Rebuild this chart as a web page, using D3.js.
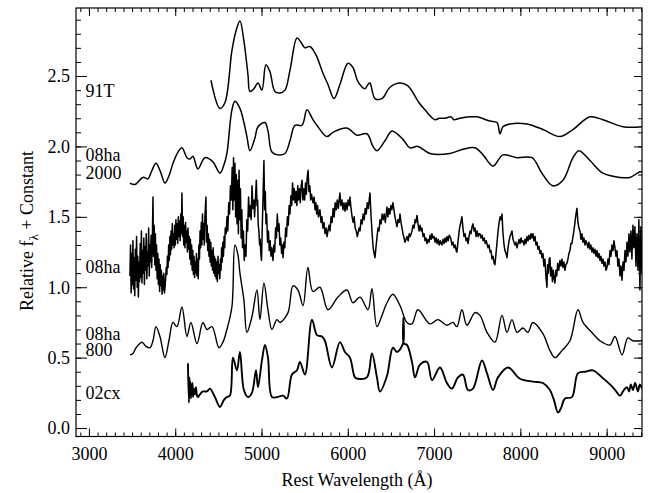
<!DOCTYPE html>
<html>
<head>
<meta charset="utf-8">
<script src="https://cdn.jsdelivr.net/npm/d3@7"></script>
<style>
  body { margin: 0; background: #fff; }
  svg { display: block; }
  .tick text { font-family: "Liberation Serif", "DejaVu Serif", serif; font-size: 18px; fill: #000; }
  .label { font-family: "Liberation Serif", "DejaVu Serif", serif; font-size: 18px; fill: #000; }
</style>
</head>
<body>
<svg id="chart" width="650" height="493"></svg>
<script>
// ---- data (rest wavelength in Angstrom, relative flux + constant) ----

var xMajorTicks = [3000, 4000, 5000, 6000, 7000, 8000, 9000];
var yMajorTicks = [0, 0.5, 1.0, 1.5, 2.0, 2.5];

var spec91T = [
  [4414,2.47],[4518,2.27],[4576,2.31],[4657,2.68],[4704,2.82],[4750,2.89],[4796,2.75],
  [4843,2.51],[4866,2.39],[4912,2.41],[4959,2.45],[5005,2.40],[5051,2.58],[5098,2.53],
  [5156,2.39],[5214,2.38],[5272,2.40],[5330,2.54],[5411,2.77],[5457,2.74],[5503,2.70],
  [5561,2.71],[5631,2.65],[5712,2.52],[5770,2.44],[5840,2.34],[5909,2.44],[6002,2.59],
  [6060,2.56],[6118,2.46],[6199,2.41],[6234,2.44],[6257,2.45],[6315,2.34],[6396,2.34],
  [6489,2.42],[6605,2.45],[6697,2.43],[6825,2.31],[6894,2.26],[7010,2.19],[7060,2.20],
  [7126,2.20],[7200,2.21],[7230,2.19],[7300,2.20],[7416,2.21],[7497,2.21],[7648,2.18],
  [7729,2.17],[7764,2.09],[7798,2.14],[7880,2.16],[8076,2.16],[8262,2.12],[8459,2.07],
  [8610,2.12],[8807,2.21],[8957,2.19],[9189,2.14],[9409,2.14]
];

var spec08ha2000 = [
  [3475,1.74],[3533,1.73],[3626,1.78],[3684,1.77],[3730,1.83],[3777,1.88],[3823,1.83],
  [3881,1.74],[3927,1.79],[3974,1.88],[4032,1.96],[4078,1.99],[4136,1.92],[4171,1.91],
  [4205,1.93],[4263,1.84],[4344,1.92],[4437,1.89],[4518,1.81],[4565,1.87],[4599,1.95],
  [4657,2.26],[4692,2.32],[4750,2.27],[4796,2.17],[4831,2.07],[4866,1.97],[4924,2.06],
  [4959,2.14],[5040,2.17],[5075,2.11],[5121,1.96],[5191,1.94],[5272,1.95],[5330,2.04],
  [5388,2.15],[5469,2.15],[5527,2.26],[5596,2.19],[5654,2.14],[5758,2.07],[5828,2.10],
  [5990,2.13],[6106,2.08],[6222,2.09],[6292,2.00],[6338,1.97],[6431,2.04],[6512,2.11],
  [6639,2.05],[6720,1.99],[6813,2.00],[6952,1.95],[7184,1.95],[7335,1.98],[7474,1.99],
  [7567,1.94],[7683,1.86],[7798,1.94],[7961,1.92],[8135,1.92],[8250,1.81],[8378,1.72],
  [8494,1.76],[8610,1.92],[8679,1.97],[8807,1.90],[8957,1.81],[9154,1.78],[9270,1.78],
  [9386,1.82],[9409,1.82]
];

var spec08ha = [
  [3475,1.08],[3482,1.30],[3489,0.96],[3496,1.24],[3503,1.02],[3510,1.33],[3517,0.99],[3524,1.21],
  [3531,0.94],[3538,1.27],[3545,1.05],[3552,1.36],[3559,1.00],[3566,1.22],[3573,0.93],[3580,1.18],
  [3587,1.04],[3594,1.31],[3601,1.07],[3608,1.40],[3615,1.03],[3622,1.26],[3629,1.10],[3636,1.35],
  [3643,1.02],[3650,1.29],[3657,1.12],[3664,1.38],[3671,1.06],[3678,1.25],[3685,1.15],[3692,1.42],
  [3699,1.08],[3706,1.30],[3713,1.18],[3720,1.37],[3727,1.14],[3734,1.30],[3742,1.64],[3749,1.22],
  [3756,1.44],[3763,1.16],[3770,1.38],[3777,1.12],[3784,1.30],[3791,1.06],[3798,1.24],[3805,1.02],
  [3812,1.20],[3819,0.97],[3826,1.16],[3833,1.01],[3840,1.12],[3847,0.95],[3854,1.08],[3861,0.98],
  [3868,1.10],[3875,0.96],[3882,1.00],[3889,1.06],[3896,1.14],[3903,1.09],[3910,1.22],[3917,1.14],
  [3924,1.30],[3931,1.19],[3938,1.36],[3945,1.23],[3952,1.40],[3959,1.27],[3966,1.45],[3973,1.30],
  [3980,1.38],[3987,1.28],[3994,1.44],[4001,1.30],[4008,1.48],[4015,1.34],[4022,1.45],[4029,1.31],
  [4036,1.50],[4043,1.36],[4050,1.47],[4057,1.33],[4064,1.52],[4071,1.38],[4078,1.67],[4085,1.36],
  [4092,1.50],[4099,1.30],[4106,1.44],[4113,1.28],[4120,1.46],[4127,1.32],[4134,1.40],[4141,1.25],
  [4148,1.42],[4155,1.27],[4162,1.36],[4169,1.20],[4176,1.34],[4183,1.16],[4190,1.30],[4197,1.12],
  [4204,1.26],[4211,1.09],[4218,1.22],[4225,1.07],[4232,1.18],[4239,1.10],[4246,1.24],[4253,1.08],
  [4260,1.20],[4267,1.06],[4274,1.30],[4281,1.20],[4288,1.40],[4295,1.28],[4302,1.46],[4309,1.30],
  [4316,1.52],[4323,1.34],[4330,1.45],[4337,1.30],[4344,1.50],[4356,1.64],[4363,1.32],[4370,1.44],
  [4377,1.26],[4384,1.38],[4391,1.22],[4398,1.34],[4405,1.18],[4412,1.32],[4419,1.15],[4426,1.26],
  [4433,1.12],[4440,1.28],[4447,1.10],[4454,1.22],[4461,1.08],[4468,1.20],[4475,1.06],[4482,1.18],
  [4489,1.04],[4496,1.22],[4503,1.10],[4510,1.16],[4517,1.06],[4524,1.20],[4531,1.12],[4538,1.28],
  [4545,1.18],[4552,1.32],[4559,1.22],[4566,1.36],[4573,1.28],[4580,1.42],[4590,1.38],[4600,1.50],
  [4610,1.40],[4620,1.60],[4630,1.52],[4640,1.72],[4650,1.62],[4660,1.85],[4668,1.55],[4676,1.92],
  [4684,1.62],[4692,1.88],[4700,1.50],[4708,1.80],[4716,1.45],[4724,1.76],[4732,1.38],[4740,1.83],
  [4748,1.48],[4756,1.70],[4764,1.35],[4772,1.55],[4780,1.28],[4790,1.40],[4800,1.19],[4810,1.30],
  [4820,1.22],[4830,1.48],[4840,1.40],[4850,1.64],[4860,1.50],[4870,1.58],[4880,1.48],[4890,1.72],
  [4900,1.56],[4910,1.62],[4920,1.50],[4932,1.66],[4940,1.76],[4948,1.58],[4955,1.62],[4962,1.44],
  [4970,1.40],[4978,1.30],[4985,1.34],[4992,1.24],[5000,1.19],[5010,1.45],[5020,1.70],[5028,1.90],
  [5036,1.55],[5044,1.68],[5052,1.45],[5060,1.52],[5070,1.32],[5080,1.40],[5090,1.26],[5100,1.33],
  [5110,1.22],[5120,1.28],[5133,1.19],[5143,1.30],[5153,1.25],[5163,1.42],[5173,1.35],[5183,1.52],
  [5193,1.40],[5203,1.45],[5213,1.30],[5223,1.35],[5233,1.24],[5243,1.30],[5250,1.21],[5260,1.32],
  [5270,1.28],[5280,1.42],[5290,1.36],[5300,1.50],[5310,1.44],[5320,1.58],[5330,1.52],[5340,1.65],
  [5350,1.58],[5360,1.74],[5370,1.62],[5380,1.70],[5390,1.60],[5400,1.68],[5410,1.58],[5420,1.72],
  [5430,1.62],[5440,1.70],[5450,1.60],[5460,1.72],[5470,1.76],[5480,1.62],[5490,1.70],[5500,1.62],
  [5510,1.74],[5520,1.66],[5530,1.78],[5540,1.83],[5550,1.68],[5560,1.72],[5570,1.62],[5580,1.66],
  [5596,1.60],[5610,1.64],[5620,1.55],[5630,1.60],[5640,1.52],[5650,1.58],[5660,1.50],[5677,1.55],
  [5690,1.46],[5700,1.50],[5712,1.42],[5724,1.46],[5736,1.38],[5748,1.42],[5760,1.36],[5770,1.40],
  [5782,1.44],[5794,1.40],[5806,1.50],[5818,1.46],[5830,1.56],[5842,1.50],[5854,1.60],[5866,1.55],
  [5878,1.62],[5890,1.56],[5909,1.67],[5920,1.58],[5932,1.62],[5944,1.55],[5956,1.60],[5968,1.54],
  [5980,1.60],[5992,1.55],[6004,1.62],[6016,1.58],[6025,1.64],[6038,1.56],[6050,1.50],[6062,1.46],
  [6074,1.50],[6086,1.42],[6098,1.40],[6110,1.36],[6118,1.38],[6130,1.42],[6142,1.40],[6154,1.48],
  [6166,1.45],[6178,1.52],[6190,1.48],[6202,1.56],[6214,1.52],[6226,1.60],[6238,1.56],[6257,1.67],
  [6270,1.50],[6282,1.38],[6294,1.28],[6305,1.24],[6315,1.21],[6326,1.28],[6338,1.35],[6350,1.42],
  [6362,1.40],[6374,1.48],[6386,1.45],[6398,1.52],[6410,1.48],[6422,1.52],[6435,1.46],[6454,1.57],
  [6465,1.50],[6476,1.56],[6488,1.52],[6500,1.58],[6510,1.55],[6523,1.60],[6535,1.55],[6547,1.50],
  [6560,1.46],[6570,1.43],[6582,1.48],[6594,1.46],[6605,1.52],[6617,1.46],[6628,1.42],[6640,1.38],
  [6652,1.35],[6663,1.32],[6675,1.34],[6687,1.36],[6700,1.33],[6712,1.38],[6724,1.36],[6744,1.40],
  [6756,1.44],[6768,1.42],[6780,1.48],[6790,1.46],[6802,1.51],[6814,1.45],[6826,1.40],[6838,1.44],
  [6850,1.40],[6860,1.42],[6872,1.36],[6884,1.38],[6896,1.33],[6906,1.35],[6918,1.31],[6930,1.34],
  [6942,1.32],[6954,1.37],[6966,1.34],[6975,1.38],[6987,1.35],[7000,1.36],[7012,1.32],[7024,1.35],
  [7036,1.31],[7048,1.34],[7060,1.30],[7072,1.33],[7082,1.31],[7091,1.30],[7103,1.34],[7115,1.31],
  [7127,1.35],[7139,1.32],[7151,1.36],[7163,1.33],[7175,1.37],[7184,1.36],[7196,1.34],[7208,1.30],
  [7220,1.32],[7232,1.28],[7244,1.30],[7256,1.26],[7265,1.25],[7280,1.34],[7295,1.42],[7310,1.46],
  [7323,1.50],[7335,1.42],[7347,1.36],[7359,1.38],[7371,1.33],[7383,1.35],[7393,1.31],[7405,1.36],
  [7417,1.40],[7428,1.38],[7440,1.43],[7451,1.45],[7463,1.40],[7475,1.42],[7487,1.36],[7499,1.40],
  [7511,1.36],[7522,1.38],[7532,1.38],[7545,1.35],[7557,1.37],[7569,1.33],[7581,1.35],[7593,1.31],
  [7605,1.33],[7613,1.31],[7625,1.28],[7637,1.30],[7649,1.25],[7660,1.26],[7672,1.20],[7684,1.22],
  [7696,1.17],[7706,1.16],[7718,1.24],[7730,1.32],[7742,1.40],[7754,1.46],[7766,1.50],[7777,1.48],
  [7787,1.52],[7799,1.38],[7811,1.30],[7822,1.26],[7834,1.24],[7845,1.21],[7857,1.28],[7869,1.33],
  [7880,1.36],[7892,1.38],[7903,1.40],[7915,1.34],[7926,1.32],[7938,1.30],[7950,1.32],[7961,1.28],
  [7973,1.31],[7985,1.34],[7996,1.31],[8008,1.35],[8019,1.32],[8030,1.33],[8042,1.30],[8054,1.34],
  [8065,1.31],[8077,1.36],[8089,1.33],[8100,1.37],[8112,1.34],[8123,1.38],[8135,1.35],[8146,1.38],
  [8158,1.33],[8170,1.36],[8181,1.30],[8193,1.32],[8204,1.27],[8216,1.29],[8227,1.24],[8239,1.26],
  [8250,1.21],[8262,1.24],[8273,1.15],[8285,1.20],[8296,1.08],[8308,1.00],[8316,1.16],[8326,1.10],
  [8334,1.20],[8343,1.21],[8352,1.08],[8362,1.14],[8372,1.04],[8382,1.12],[8392,1.06],[8401,1.03],
  [8412,1.12],[8422,1.08],[8433,1.17],[8445,1.12],[8459,1.19],[8470,1.15],[8482,1.20],[8494,1.14],
  [8505,1.18],[8517,1.12],[8528,1.16],[8540,1.17],[8552,1.20],[8563,1.24],[8575,1.26],[8586,1.31],
  [8598,1.31],[8610,1.36],[8621,1.40],[8633,1.46],[8645,1.52],[8656,1.56],[8668,1.46],[8679,1.42],
  [8691,1.40],[8703,1.34],[8714,1.38],[8726,1.32],[8737,1.35],[8749,1.30],[8760,1.33],[8772,1.31],
  [8784,1.28],[8795,1.32],[8807,1.27],[8818,1.30],[8830,1.25],[8842,1.28],[8853,1.24],[8865,1.27],
  [8876,1.22],[8888,1.26],[8900,1.21],[8911,1.24],[8923,1.19],[8934,1.22],[8946,1.17],[8958,1.20],
  [8969,1.15],[8981,1.18],[8993,1.12],[9004,1.14],[9016,1.20],[9027,1.16],[9039,1.26],[9050,1.22],
  [9062,1.30],[9074,1.26],[9085,1.33],[9097,1.28],[9108,1.22],[9120,1.26],[9131,1.15],[9143,1.20],
  [9155,1.08],[9166,1.15],[9178,1.05],[9190,1.18],[9201,1.12],[9213,1.26],[9224,1.18],[9236,1.32],
  [9247,1.22],[9259,1.38],[9270,1.25],[9282,1.40],[9293,1.20],[9305,1.44],[9316,1.28],[9328,1.43],
  [9340,1.15],[9351,1.38],[9363,1.12],[9374,1.48],[9386,0.98],[9397,1.43],[9409,1.10]
];

var spec08ha800 = [
  [3475,0.52],[3510,0.53],[3545,0.57],[3591,0.60],[3614,0.61],[3661,0.58],[3707,0.57],
  [3742,0.62],[3777,0.72],[3823,0.65],[3881,0.50],[3927,0.62],[3974,0.75],[4020,0.72],
  [4078,0.86],[4136,0.65],[4182,0.75],[4252,0.60],[4321,0.75],[4368,0.70],[4426,0.72],
  [4507,0.57],[4553,0.61],[4599,0.70],[4657,0.86],[4692,1.30],[4727,1.23],[4750,1.10],
  [4796,0.91],[4831,0.68],[4889,0.79],[4947,0.98],[4982,0.77],[5028,1.03],[5075,0.84],
  [5121,0.70],[5179,0.77],[5214,0.75],[5307,0.82],[5365,1.01],[5423,0.98],[5481,0.87],
  [5538,1.14],[5596,0.97],[5677,1.00],[5770,0.84],[5886,0.93],[5990,0.98],[6060,0.89],
  [6141,0.93],[6234,0.84],[6280,0.99],[6338,0.72],[6396,0.80],[6454,0.89],[6523,0.95],
  [6605,0.87],[6686,0.75],[6744,0.74],[6813,0.84],[6952,0.74],[7045,0.77],[7149,0.73],
  [7219,0.75],[7265,0.72],[7323,0.84],[7381,0.73],[7474,0.82],[7532,0.80],[7613,0.68],
  [7706,0.61],[7787,0.80],[7845,0.68],[7903,0.77],[7961,0.68],[8030,0.71],[8088,0.68],
  [8146,0.75],[8262,0.67],[8343,0.55],[8401,0.50],[8482,0.55],[8575,0.62],[8668,0.84],
  [8726,0.75],[8842,0.67],[8923,0.62],[9039,0.59],[9097,0.65],[9178,0.52],[9247,0.64],
  [9305,0.62],[9409,0.62]
];

var spec02cx = [
  [4147,0.46],[4159,0.18],[4165,0.36],[4171,0.24],[4176,0.33],[4182,0.21],[4188,0.31],
  [4194,0.25],[4200,0.32],[4206,0.22],[4217,0.28],[4229,0.24],[4240,0.29],[4252,0.23],
  [4263,0.22],[4287,0.24],[4321,0.26],[4368,0.26],[4402,0.28],[4460,0.22],[4518,0.15],
  [4565,0.20],[4599,0.22],[4634,0.23],[4669,0.50],[4715,0.41],[4750,0.54],[4796,0.27],
  [4843,0.22],[4889,0.25],[4936,0.41],[4959,0.29],[5005,0.48],[5040,0.59],[5075,0.50],
  [5121,0.22],[5179,0.22],[5249,0.23],[5295,0.21],[5353,0.38],[5411,0.41],[5446,0.47],
  [5503,0.38],[5585,0.77],[5643,0.66],[5701,0.65],[5735,0.62],[5816,0.43],[5909,0.61],
  [5967,0.54],[6025,0.50],[6083,0.36],[6118,0.35],[6222,0.36],[6280,0.53],[6338,0.36],
  [6373,0.26],[6454,0.37],[6523,0.57],[6570,0.54],[6640,0.60],[6645,0.78],[6651,0.60],
  [6686,0.59],[6744,0.47],[6779,0.36],[6837,0.45],[6918,0.47],[6976,0.34],[7068,0.43],
  [7149,0.32],[7207,0.28],[7277,0.36],[7335,0.38],[7393,0.27],[7451,0.28],[7555,0.48],
  [7613,0.39],[7683,0.27],[7741,0.36],[7857,0.43],[7996,0.35],[8146,0.33],[8262,0.32],
  [8343,0.27],[8389,0.20],[8436,0.11],[8470,0.14],[8517,0.21],[8598,0.22],[8668,0.39],
  [8749,0.40],[8842,0.41],[8946,0.36],[9039,0.31],[9100,0.27],[9154,0.23],[9200,0.27],
  [9236,0.29],[9260,0.26],[9280,0.31],[9305,0.27],[9330,0.32],[9363,0.26],[9385,0.31],
  [9409,0.28]
];

var spectra = [spec91T, spec08ha2000, spec08ha, spec08ha800, spec02cx];
var seriesWidth = [1.5, 1.5, 1.5, 1.4, 1.9];
var seriesSmooth = [true, true, false, true, true];

// label text and the flux level it sits at (left of the spectra)
var labelText = ['91T', '08ha', '2000', '08ha', '08ha', '800', '02cx'];
var labelFlux = [2.35, 1.895, 1.77, 1.10, 0.625, 0.515, 0.205];

(function main() {

  var svg = d3.select('#chart')
  var left = 76, right = 642, plotTop = 8, plotBottom = 436.5

  var x = d3.scaleLinear().domain([2850, 9410]).range([left, right])
  var y = d3.scaleLinear().domain([-0.06, 2.983]).range([plotBottom, plotTop])

  svg.append('defs').append('clipPath').attr('id', 'plot')
    .append('rect')
      .attr('x', left).attr('y', plotTop)
      .attr('width', right - left).attr('height', plotBottom - plotTop)

  var xMinor = d3.range(2900, 9410, 100)
  var yMinor = d3.range(0, 2.95, 0.1)

  function drawAxis(axis, tx, ty) {
    var g = svg.append('g')
      .attr('transform', 'translate(' + tx + ',' + ty + ')')
      .call(axis)
    g.select('.domain').remove()
    g.selectAll('.tick line').attr('stroke', '#000').attr('stroke-width', 1)
    return g
  }

  // major ticks with labels
  drawAxis(d3.axisBottom(x).tickValues(xMajorTicks).tickSize(-8).tickPadding(11)
    .tickFormat(d3.format('d')), 0, plotBottom)
  drawAxis(d3.axisLeft(y).tickValues(yMajorTicks).tickSize(-11).tickPadding(6)
    .tickFormat(d3.format('.1f')), left, 0)

  // ticks without labels on every side
  drawAxis(d3.axisTop(x).tickValues(xMajorTicks).tickSize(-8).tickFormat(''), 0, plotTop)
  drawAxis(d3.axisRight(y).tickValues(yMajorTicks).tickSize(-8).tickFormat(''), right, 0)
  drawAxis(d3.axisBottom(x).tickValues(xMinor).tickSize(-4).tickFormat(''), 0, plotBottom)
  drawAxis(d3.axisTop(x).tickValues(xMinor).tickSize(-4).tickFormat(''), 0, plotTop)
  drawAxis(d3.axisLeft(y).tickValues(yMinor).tickSize(-5).tickFormat(''), left, 0)
  drawAxis(d3.axisRight(y).tickValues(yMinor).tickSize(-4).tickFormat(''), right, 0)

  svg.selectAll('.tick text').attr('fill', '#000')

  // frame
  svg.append('rect')
    .attr('x', left).attr('y', plotTop)
    .attr('width', right - left).attr('height', plotBottom - plotTop)
    .attr('fill', 'none').attr('stroke', '#000').attr('stroke-width', 1.2)

  // spectra: smooth ones through a Catmull-Rom curve, the noisy one straight
  var smoothLine = d3.line()
    .x(function(d) { return x(d[0]) })
    .y(function(d) { return y(d[1]) })
    .curve(d3.curveCatmullRom.alpha(0.5))
  var rawLine = d3.line()
    .x(function(d) { return x(d[0]) })
    .y(function(d) { return y(d[1]) })

  svg.append('g').attr('clip-path', 'url(#plot)')
    .selectAll('path')
    .data(spectra)
    .enter().append('path')
      .attr('d', function(d, i) { return seriesSmooth[i] ? smoothLine(d) : rawLine(d) })
      .attr('fill', 'none')
      .attr('stroke', '#000')
      .attr('stroke-width', function(d, i) { return seriesWidth[i] })
      .attr('stroke-linejoin', 'round')

  // series labels
  svg.selectAll('text.label')
    .data(labelText)
    .enter().append('text')
      .attr('class', 'label')
      .attr('x', x(2960))
      .attr('y', function(d, i) { return y(labelFlux[i]) })
      .text(function(d) { return d })

  // axis titles
  svg.append('text')
    .attr('class', 'label')
    .attr('x', (left + right) / 2 - 2)
    .attr('y', 486)
    .attr('text-anchor', 'middle')
    .text('Rest Wavelength (\u00c5)')

  var yt = svg.append('text')
    .attr('class', 'label')
    .attr('transform', 'translate(33,231) rotate(-90)')
    .attr('text-anchor', 'middle')
  yt.append('tspan').text('Relative f')
  yt.append('tspan').attr('font-size', '13px').attr('dy', 5).text('\u03bb')
  yt.append('tspan').attr('dy', -5).text(' + Constant')

})()
</script>
</body>
</html>
